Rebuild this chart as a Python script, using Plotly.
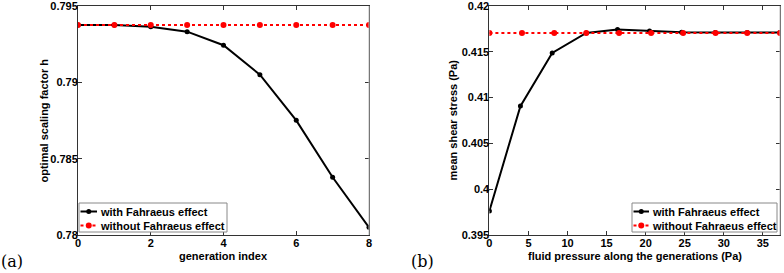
import plotly.graph_objects as go

W, H = 784, 273

# ---- data (a) ----
generation = [0, 1, 2, 3, 4, 5, 6, 7, 8]
h_with = [0.79376, 0.79375, 0.79364, 0.79332, 0.79243, 0.79050, 0.78751, 0.78378, 0.78050]
h_without = [0.79376, 0.79376, 0.79376, 0.79376, 0.79376, 0.79376, 0.79376, 0.79376, 0.79376]
xticks_a = [0, 2, 4, 6, 8]
yticks_a = [0.78, 0.785, 0.79, 0.795]
yticklabels_a = ["0.78", "0.785", "0.79", "0.795"]

# ---- data (b) ----
pressure_with = [0, 3.97, 8.04, 12.4, 16.4, 20.5, 24.6, 28.9, 33.0, 37.2]
pressure_without = [0, 4.17, 8.3, 12.4, 16.6, 20.7, 24.8, 28.95, 33.0, 37.2]
tau_with = [0.39762, 0.40907, 0.41488, 0.41706, 0.41743, 0.41728, 0.41713, 0.41710, 0.41710, 0.41710]
tau_without = [0.41706, 0.41706, 0.41706, 0.41706, 0.41706, 0.41706, 0.41706, 0.41706, 0.41706, 0.41706]
xticks_b = [0, 5, 10, 15, 20, 25, 30, 35]
yticks_b = [0.395, 0.4, 0.405, 0.41, 0.415, 0.42]
yticklabels_b = ["0.395", "0.4", "0.405", "0.41", "0.415", "0.42"]

series_names = ["with Fahraeus effect", "without Fahraeus effect"]

FONT = "Liberation Sans, Arial, Helvetica, sans-serif"
SERIF = "DejaVu Serif, Liberation Serif, serif"

def px(x):
    return x / W

def py(y):
    return 1 - y / H

STYLE = [
    dict(line=dict(color="black", width=2), marker=dict(color="black", size=5)),
    dict(line=dict(color="red", width=2, dash="dot"), marker=dict(color="red", size=6)),
]

fig = go.Figure()
for (xs, ys), st, nm in zip([(generation, h_with), (generation, h_without)], STYLE, series_names):
    fig.add_trace(go.Scatter(x=xs, y=ys, mode="lines+markers", name=nm,
                             xaxis="x", yaxis="y", showlegend=False, **st))
for (xs, ys), st, nm in zip([(pressure_with, tau_with), (pressure_without, tau_without)], STYLE, series_names):
    fig.add_trace(go.Scatter(x=xs, y=ys, mode="lines+markers", name=nm,
                             xaxis="x2", yaxis="y2", showlegend=False, **st))

tickfont = dict(family=FONT, size=11, color="black", weight="bold")
axcommon = dict(showgrid=False, zeroline=False, showline=True, linecolor="#333333",
                linewidth=1, mirror="ticks", ticks="inside", ticklen=4,
                tickcolor="#333333", tickfont=tickfont, automargin=False,
                ticklabeloverflow="allow")

ydom = [py(235), py(6)]

fig.update_layout(
    width=W, height=H,
    margin=dict(l=0, r=0, t=0, b=0),
    paper_bgcolor="white", plot_bgcolor="white",
    font=dict(family=FONT, size=11, color="black"),
    showlegend=False,
    xaxis=dict(domain=[px(78), px(369)], range=[0, 8], tickvals=xticks_a,
               anchor="y", ticklabelstandoff=-2, **axcommon),
    yaxis=dict(domain=ydom, range=[0.78, 0.795], tickvals=yticks_a,
               ticktext=yticklabels_a, anchor="x", ticklabelstandoff=-3, **axcommon),
    xaxis2=dict(domain=[px(489.4), px(780)], range=[0, 37.2], tickvals=xticks_b,
                anchor="y2", ticklabelstandoff=-2, **axcommon),
    yaxis2=dict(domain=ydom, range=[0.395, 0.42], tickvals=yticks_b,
                ticktext=yticklabels_b, anchor="x2", ticklabelstandoff=-3, **axcommon),
)

# light right-hand box edges (as in the reference)
for xr, yr in (("x domain", "y domain"), ("x2 domain", "y2 domain")):
    fig.add_shape(type="line", xref=xr, yref=yr, x0=1, x1=1, y0=0, y1=1,
                  line=dict(color="#bbbbbb", width=1), layer="above")

# ---- compact MATLAB-style legends (box, sample line + marker, label) ----
bold11 = dict(family=FONT, size=11, color="black", weight="bold")

def add_legend(box_l, box_r, box_t, box_b, sample_l, sample_r, text_l, rows_y):
    fig.add_shape(type="rect", xref="paper", yref="paper",
                  x0=px(box_l), x1=px(box_r), y0=py(box_b), y1=py(box_t),
                  line=dict(color="#888888", width=1), fillcolor="white", layer="above")
    for st, nm, ry in zip(STYLE, series_names, rows_y):
        fig.add_shape(type="line", xref="paper", yref="paper",
                      x0=px(sample_l), x1=px(sample_r), y0=py(ry), y1=py(ry),
                      line=st["line"], layer="above")
        cx = (sample_l + sample_r) / 2
        r = st["marker"]["size"] / 2
        fig.add_shape(type="circle", xref="paper", yref="paper",
                      x0=px(cx - r), x1=px(cx + r), y0=py(ry + r), y1=py(ry - r),
                      line=dict(color=st["marker"]["color"], width=0),
                      fillcolor=st["marker"]["color"], layer="above")
        fig.add_annotation(text=nm, x=px(text_l), y=py(ry), xref="paper", yref="paper",
                           showarrow=False, font=bold11, xanchor="left", yanchor="middle",
                           borderpad=0)

add_legend(79, 227, 203, 232, 80.5, 97, 99, [211.5, 225.5])
add_legend(632, 777, 203, 232, 633.5, 649, 650.5, [211.5, 225.5])

# ---- axis titles and panel labels ----
fig.add_annotation(text="generation index", x=px(223.5), y=py(256), xref="paper", yref="paper",
                   showarrow=False, font=bold11, xanchor="center", yanchor="middle", borderpad=0)
fig.add_annotation(text="optimal scaling factor h", x=px(43), y=py(120.5), xref="paper", yref="paper",
                   showarrow=False, font=bold11, textangle=-90, xanchor="center", yanchor="middle",
                   borderpad=0)
fig.add_annotation(text="fluid pressure along the generations (Pa)", x=px(634.5), y=py(256),
                   xref="paper", yref="paper", showarrow=False, font=bold11,
                   xanchor="center", yanchor="middle", borderpad=0)
fig.add_annotation(text="mean shear stress (Pa)", x=px(452), y=py(120.5), xref="paper", yref="paper",
                   showarrow=False, font=bold11, textangle=-90, xanchor="center", yanchor="middle",
                   borderpad=0)
fig.add_annotation(text="(a)", x=px(12), y=py(261), xref="paper", yref="paper",
                   showarrow=False, font=dict(family=SERIF, size=16, color="black"),
                   xanchor="center", yanchor="middle", borderpad=0)
fig.add_annotation(text="(b)", x=px(422.5), y=py(261), xref="paper", yref="paper",
                   showarrow=False, font=dict(family=SERIF, size=16, color="black"),
                   xanchor="center", yanchor="middle", borderpad=0)

fig.write_html("out.html", config={"displayModeBar": False},
               post_script="document.body.style.margin='0px';")
